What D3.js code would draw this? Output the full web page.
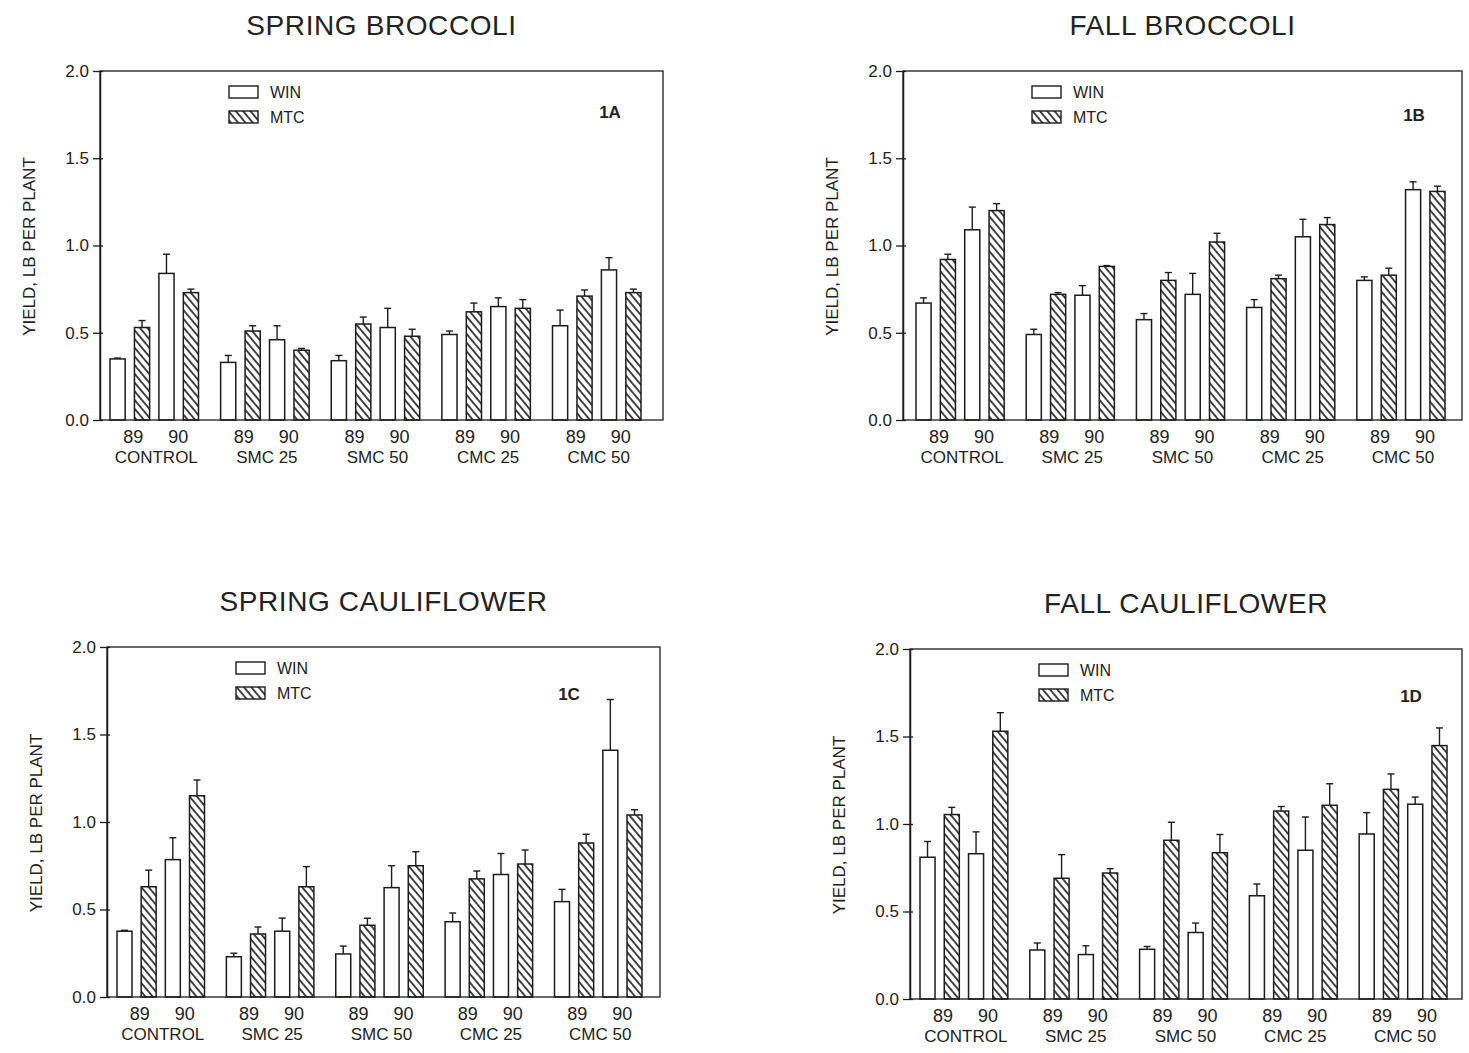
<!DOCTYPE html>
<html><head><meta charset="utf-8">
<script src="https://cdn.jsdelivr.net/npm/d3@7"></script>
<style>
html,body{margin:0;padding:0;background:#fff;}
svg{display:block;}
text{font-family:"Liberation Sans",Arial,sans-serif;fill:#222;}
</style></head>
<body>
<svg id="chart" width="1469" height="1053"></svg>
<script>
// ---- data ----
const groups = ["CONTROL", "SMC 25", "SMC 50", "CMC 25", "CMC 50"];
const years = ["89", "90"];
const seriesNames = ["WIN", "MTC"];
const yTicks = [0, 0.5, 1.0, 1.5, 2.0];
const titles = ["SPRING BROCCOLI", "FALL BROCCOLI", "SPRING CAULIFLOWER", "FALL CAULIFLOWER"];
const panelLabels = ["1A", "1B", "1C", "1D"];
const yTitle = "YIELD, LB PER PLANT";

// values ordered group by group: [89, 90]
const winA    = [0.35, 0.84, 0.33, 0.46, 0.34, 0.53, 0.49, 0.65, 0.54, 0.86];
const winAErr = [0.005, 0.11, 0.04, 0.08, 0.03, 0.11, 0.02, 0.05, 0.09, 0.07];
const mtcA    = [0.53, 0.73, 0.51, 0.40, 0.55, 0.48, 0.62, 0.64, 0.71, 0.73];
const mtcAErr = [0.04, 0.02, 0.03, 0.01, 0.04, 0.04, 0.05, 0.05, 0.035, 0.02];

const winB    = [0.67, 1.09, 0.49, 0.715, 0.575, 0.72, 0.645, 1.05, 0.80, 1.32];
const winBErr = [0.03, 0.13, 0.03, 0.055, 0.035, 0.12, 0.045, 0.10, 0.02, 0.045];
const mtcB    = [0.92, 1.20, 0.72, 0.88, 0.80, 1.02, 0.81, 1.12, 0.83, 1.31];
const mtcBErr = [0.03, 0.04, 0.01, 0.005, 0.045, 0.05, 0.02, 0.04, 0.04, 0.03];

const winC    = [0.376, 0.785, 0.23, 0.376, 0.246, 0.625, 0.43, 0.70, 0.545, 1.41];
const winCErr = [0.005, 0.125, 0.02, 0.075, 0.045, 0.125, 0.05, 0.12, 0.07, 0.29];
const mtcC    = [0.63, 1.15, 0.36, 0.63, 0.41, 0.75, 0.675, 0.76, 0.88, 1.04];
const mtcCErr = [0.095, 0.09, 0.04, 0.115, 0.04, 0.08, 0.045, 0.08, 0.05, 0.03];

const winD    = [0.81, 0.83, 0.28, 0.254, 0.284, 0.38, 0.59, 0.85, 0.943, 1.113];
const winDErr = [0.09, 0.125, 0.04, 0.05, 0.016, 0.054, 0.067, 0.19, 0.122, 0.041];
const mtcD    = [1.054, 1.53, 0.69, 0.72, 0.907, 0.836, 1.074, 1.107, 1.198, 1.448];
const mtcDErr = [0.041, 0.106, 0.135, 0.025, 0.103, 0.104, 0.026, 0.123, 0.088, 0.101];

// ---- layout ----
const panels = [
  {x0:100, x1:663, y0:71,  y1:420, first:110, last:641, lab:[-53,47], win:winA, winErr:winAErr, mtc:mtcA, mtcErr:mtcAErr},
  {x0:903, x1:1462, y0:71, y1:420, first:916, last:1445, lab:[-48,50], win:winB, winErr:winBErr, mtc:mtcB, mtcErr:mtcBErr},
  {x0:107, x1:660, y0:647, y1:997, first:117, last:642, lab:[-91,53], win:winC, winErr:winCErr, mtc:mtcC, mtcErr:mtcCErr},
  {x0:910, x1:1462, y0:649, y1:999, first:920, last:1447, lab:[-51,53], win:winD, winErr:winDErr, mtc:mtcD, mtcErr:mtcDErr}
];

const svg = d3.select("#chart");
const ink = "#1c1c1c";

const defs = svg.append("defs");
defs.append("pattern")
  .attr("id", "hatch")
  .attr("patternUnits", "userSpaceOnUse")
  .attr("width", 5.6).attr("height", 10)
  .attr("patternTransform", "rotate(-40)")
  .append("line")
  .attr("x1", 2.8).attr("y1", -1).attr("x2", 2.8).attr("y2", 11)
  .attr("stroke", ink).attr("stroke-width", 1.6);

panels.forEach((p, pi) => {
  const g = svg.append("g");
  const y = d3.scaleLinear().domain([0, 2]).range([p.y1, p.y0]);
  const xg = d3.scaleBand().domain(groups).range([p.first, p.last]).paddingInner(0.2).paddingOuter(0);
  const keys = ["WIN-89", "MTC-89", "WIN-90", "MTC-90"];
  const xb = d3.scaleBand().domain(keys).range([0, xg.bandwidth()]).paddingInner(0.38).paddingOuter(0);

  // bars data
  const bars = [];
  groups.forEach((grp, gi) => {
    years.forEach((yr, yi) => {
      const idx = gi * 2 + yi;
      bars.push({grp, key: "WIN-" + yr, v: p.win[idx], e: p.winErr[idx], s: "WIN"});
      bars.push({grp, key: "MTC-" + yr, v: p.mtc[idx], e: p.mtcErr[idx], s: "MTC"});
    });
  });

  // error bars (behind bars)
  const eb = g.append("g").attr("stroke", ink).attr("stroke-width", 1.4);
  bars.forEach(d => {
    const cx = xg(d.grp) + xb(d.key) + xb.bandwidth() / 2;
    eb.append("line").attr("x1", cx).attr("x2", cx).attr("y1", y(d.v)).attr("y2", y(d.v + d.e));
    eb.append("line").attr("x1", cx - 3.5).attr("x2", cx + 3.5).attr("y1", y(d.v + d.e)).attr("y2", y(d.v + d.e));
  });

  g.append("g").selectAll("rect").data(bars).join("rect")
    .attr("x", d => xg(d.grp) + xb(d.key))
    .attr("y", d => y(d.v))
    .attr("width", xb.bandwidth())
    .attr("height", d => y(0) - y(d.v))
    .attr("fill", d => d.s === "WIN" ? "#fff" : "url(#hatch)")
    .attr("stroke", ink).attr("stroke-width", 1.5);

  // frame
  g.append("rect").attr("x", p.x0).attr("y", p.y0)
    .attr("width", p.x1 - p.x0).attr("height", p.y1 - p.y0)
    .attr("fill", "none").attr("stroke", ink).attr("stroke-width", 1.3);

  // y axis
  const yAxis = d3.axisLeft(y).tickValues(yTicks).tickFormat(d3.format(".1f"))
    .tickSizeInner(7).tickSizeOuter(0).tickPadding(4);
  const ax = g.append("g").attr("transform", `translate(${p.x0},0)`).call(yAxis);
  ax.select(".domain").attr("stroke", ink).attr("stroke-width", 1.5);
  ax.selectAll(".tick line").attr("stroke", ink).attr("stroke-width", 1.3).attr("x2", -7).attr("x1", 3);
  ax.selectAll(".tick text").attr("font-size", 17).attr("fill", "#222")
    .attr("font-family", "Liberation Sans, Arial, sans-serif");

  // x labels
  groups.forEach(grp => {
    const c = xg(grp) + xg.bandwidth() / 2;
    g.append("text").attr("x", c - 21).attr("y", p.y1 + 23).attr("text-anchor", "middle")
      .attr("font-size", 18).text(years[0]);
    g.append("text").attr("x", c + 24).attr("y", p.y1 + 23).attr("text-anchor", "middle")
      .attr("font-size", 18).text(years[1]);
    g.append("text").attr("x", c + 2).attr("y", p.y1 + 43).attr("text-anchor", "middle")
      .attr("font-size", 17).text(grp);
  });

  // y title
  const cy = (p.y0 + p.y1) / 2 + 1;
  g.append("text").attr("transform", `translate(${p.x0 - 65},${cy}) rotate(-90)`)
    .attr("text-anchor", "middle").attr("font-size", 17).text(yTitle);

  // title
  g.append("text").attr("x", (p.x0 + p.x1) / 2).attr("y", p.y0 - 36)
    .attr("text-anchor", "middle").attr("font-size", 28).attr("fill", "#3a3a3a")
    .attr("letter-spacing", 0.6).text(titles[pi]);

  // panel label
  g.append("text").attr("x", p.x1 + p.lab[0]).attr("y", p.y0 + p.lab[1])
    .attr("text-anchor", "middle").attr("font-size", 17).attr("font-weight", "bold").text(panelLabels[pi]);

  // legend
  const lx = p.x0 + 129, ly = p.y0 + 15;
  seriesNames.forEach((s, si) => {
    g.append("rect").attr("x", lx).attr("y", ly + si * 25).attr("width", 29).attr("height", 12)
      .attr("fill", s === "WIN" ? "#fff" : "url(#hatch)").attr("stroke", ink).attr("stroke-width", 1.4);
    g.append("text").attr("x", lx + 41).attr("y", ly + si * 25 + 12)
      .attr("font-size", 16).text(s);
  });
});
</script>
</body></html>
